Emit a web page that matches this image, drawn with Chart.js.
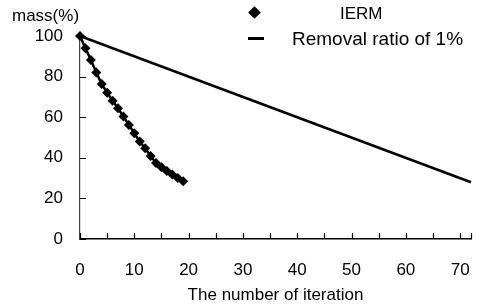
<!DOCTYPE html>
<html>
<head>
<meta charset="utf-8">
<script src="https://cdn.jsdelivr.net/npm/chart.js@4/dist/chart.umd.min.js"></script>
<style>
  html, body { margin: 0; padding: 0; background: #fff; }
  #wrap { position: relative; width: 479px; height: 306px; font-family: "Liberation Sans", Arial, sans-serif; color: #000; }
  #chart { position: absolute; left: 0; top: 0; }
  .txt { position: absolute; white-space: nowrap; line-height: 1; }
  #ylab { left: 12px; top: 7px; font-size: 17px; }
  #leg1 { left: 340px; top: 5px; font-size: 17px; }
  #leg2 { left: 292px; top: 29px; font-size: 19px; }
  #dia { position: absolute; left: 250px; top: 8px; width: 9px; height: 9px; background: #000; transform: rotate(45deg); }
  #dash { position: absolute; left: 248px; top: 37px; width: 16px; height: 3px; background: #000; }
</style>
</head>
<body>
<div id="wrap">
  <canvas id="chart" width="479" height="306"></canvas>
  <div class="txt" id="ylab">mass(%)</div>
  <div id="dia"></div><div class="txt" id="leg1">IERM</div>
  <div id="dash"></div><div class="txt" id="leg2">Removal ratio of 1%</div>
</div>
<script>
// valores
const iteracoes = [0, 1, 2, 3, 4, 5, 6, 7, 8, 9, 10, 11, 12, 13, 14, 15, 16, 17, 18, 19];
const massaIERM = [100, 94, 88.2, 82, 76.3, 72.1, 68.1, 64.4, 60.3, 56.2, 52.1, 48, 44.7, 40.9, 37.5, 35.4, 33.5, 31.8, 30.1, 28.5];
const iteracoesRemocao = [0, 72];
const massaRemocao = [100, 28];
const yTicks = [0, 20, 40, 60, 80, 100];

const fonte = { family: '"Liberation Sans", Arial, sans-serif', size: 17 };

// ticks para dentro (como no original)
const ticksInternos = {
  id: 'ticksInternos',
  afterDraw(chart) {
    const ctx = chart.ctx;
    const x = chart.scales.x, y = chart.scales.y;
    ctx.save();
    ctx.strokeStyle = '#000';
    ctx.lineWidth = 1.2;
    ctx.beginPath();
    const xs = x.ticks.map(t => t.value).concat([x.max]);
    xs.forEach(v => {
      const px = Math.round(x.getPixelForValue(v)) + 0.5;
      ctx.moveTo(px, x.top);
      ctx.lineTo(px, x.top - 6);
    });
    y.ticks.forEach(t => {
      const py = Math.round(y.getPixelForValue(t.value)) + 0.5;
      ctx.moveTo(y.right, py);
      ctx.lineTo(y.right + 6, py);
    });
    ctx.stroke();
    ctx.restore();
  }
};

new Chart(document.getElementById('chart'), {
  type: 'scatter',
  data: {
    datasets: [
      {
        label: 'Removal ratio of 1%',
        data: iteracoesRemocao.map((v, i) => ({ x: v, y: massaRemocao[i] })),
        showLine: true,
        borderColor: '#000',
        borderWidth: 2.6,
        pointRadius: 0,
        clip: false
      },
      {
        label: 'IERM',
        data: iteracoes.map((v, i) => ({ x: v, y: massaIERM[i] })),
        showLine: true,
        borderColor: '#000',
        borderWidth: 2.5,
        backgroundColor: '#000',
        pointStyle: 'rectRot',
        pointRadius: 5,
        pointBorderWidth: 0,
        clip: false
      }
    ]
  },
  options: {
    responsive: false,
    animation: false,
    events: [],
    layout: { padding: { left: 0, right: 8, top: 36, bottom: 0 } },
    plugins: { legend: { display: false }, tooltip: { enabled: false } },
    scales: {
      x: {
        type: 'linear',
        min: 0,
        max: 72,
        grid: { display: false, drawTicks: false },
        border: { display: true, color: '#000', width: 1.5 },
        ticks: {
          stepSize: 5,
          includeBounds: false,
          autoSkip: false,
          maxRotation: 0,
          padding: 21,
          color: '#000',
          font: fonte,
          callback: v => (v % 10 === 0 ? v : '')
        },
        title: {
          display: true,
          text: 'The number of iteration',
          color: '#000',
          font: fonte,
          padding: { top: 0, bottom: 0 }
        },
        afterFit: s => { s.height = 67; s.paddingRight = 0; s.paddingLeft = 0; }
      },
      y: {
        min: 0,
        max: 100,
        afterBuildTicks: s => { s.ticks = yTicks.map(v => ({ value: v })); },
        grid: { display: false, drawTicks: false },
        border: { display: true, color: '#444', width: 1.2 },
        ticks: { padding: 17, color: '#000', font: fonte },
        afterFit: s => { s.width = 80; s.paddingTop = 0; s.paddingBottom = 0; }
      }
    }
  },
  plugins: [ticksInternos]
});
</script>
</body>
</html>
